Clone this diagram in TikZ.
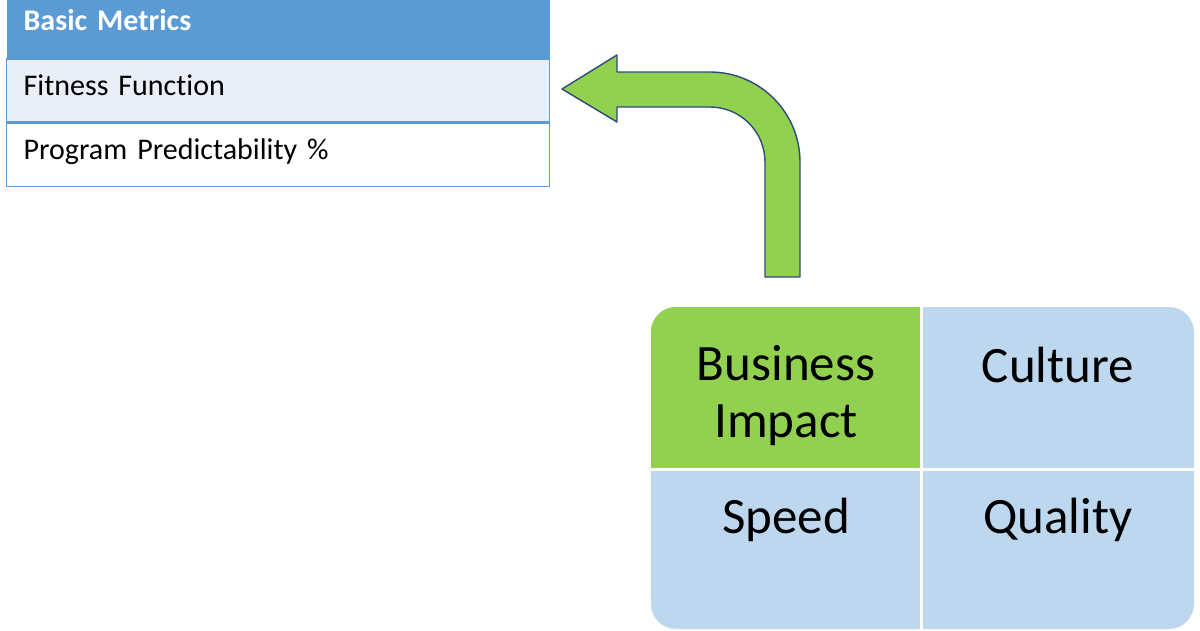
\documentclass[tikz,border=0pt]{standalone}
\usepackage{fontspec}
\setmainfont{Carlito}[Ligatures=NoCommon, WordSpace=0.75]
\usetikzlibrary{positioning}
\definecolor{hdrblue}{HTML}{5B9BD5}
\definecolor{rowblue}{HTML}{E9EEF7}
\definecolor{cellblue}{HTML}{BDD7EE}
\definecolor{cellgreen}{HTML}{92D050}
\definecolor{edgeblue}{HTML}{2F4B7C}

\begin{document}
\begin{tikzpicture}[
    x=1pt, y=-1pt,
    row/.style={draw=hdrblue, line width=1.3pt, anchor=north west,
                text width=509pt, inner xsep=17pt, inner ysep=16.5pt,
                text height=20pt, text depth=10pt, align=left,
                font=\fontsize{30}{34}\selectfont},
    quad/.style={anchor=base, align=center, inner sep=0pt,
                font=\fontsize{51}{57}\selectfont},
]
\useasboundingbox (0,0) rectangle (1200,630);
% metrics table
\node[row, draw=none, fill=hdrblue, text=white, inner ysep=13.5pt,
      text depth=14pt, font=\bfseries\fontsize{30}{34}\selectfont]
      (head) at (6,-4) {Basic Metrics};
\node[row, fill=rowblue, below=0pt of head] (fit) {Fitness Function};
\node[row, fill=white, below=0pt of fit] (pred) {Program Predictability \%};
% bent arrow
\filldraw[fill=cellgreen, draw=edgeblue, line width=1.4pt, line join=round]
    (765,277) -- (765,162) arc (0:-90:55) -- (617,107) -- (617,122)
    -- (562,89) -- (617,55) -- (617,72) -- (710,72) arc (-90:0:90)
    -- (800,277) -- cycle;
% quadrant grid
\fill[cellblue, rounded corners=25pt] (651,307) rectangle (1194,629);
\begin{scope}
  \clip[rounded corners=25pt] (651,307) rectangle (1194,629);
  \fill[cellgreen] (651,307) rectangle (921,469);
\end{scope}
\draw[white, line width=3pt] (921,307) -- (921,629);
\draw[white, line width=3pt] (651,469) -- (1194,469);
\node[quad] (impact) at (786,437) {Business\\Impact};
\node[quad] (culture) at (1058,382) {Culture};
\node[quad] (speed) at (786,533) {Speed};
\node[quad] (quality) at (1058,533) {Quality};
\end{tikzpicture}
\end{document}
